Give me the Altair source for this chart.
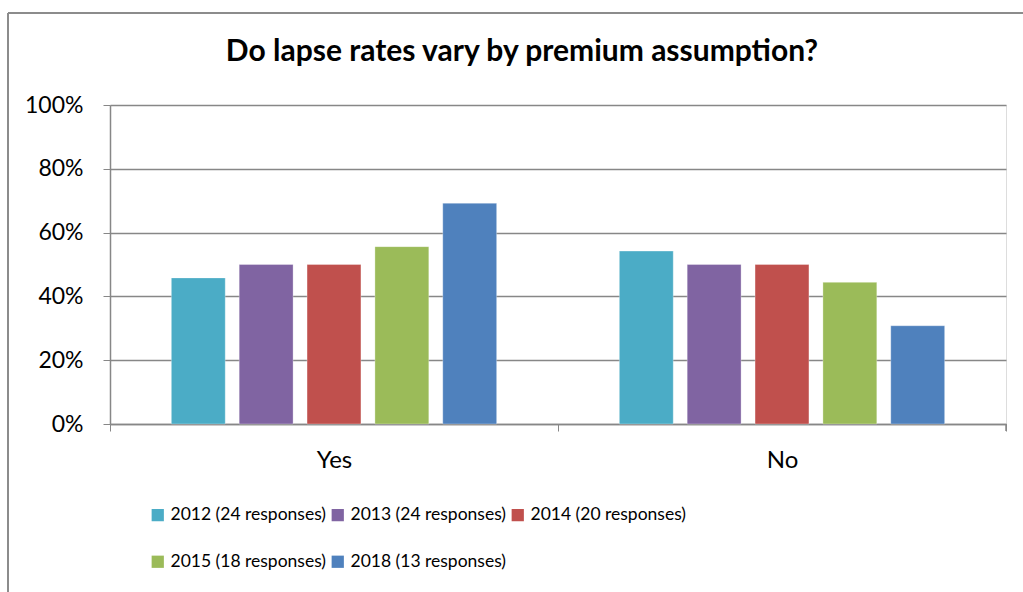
import altair as alt
import pandas as pd

answers = ["Yes", "No"]
series = ["2012 (24 responses)", "2013 (24 responses)", "2014 (20 responses)",
          "2015 (18 responses)", "2018 (13 responses)"]
colors = ["#4BACC6", "#8064A2", "#C0504D", "#9BBB59", "#4F81BD"]
yes_vals = [0.458, 0.50, 0.50, 0.556, 0.692]
no_vals = [0.542, 0.50, 0.50, 0.444, 0.308]
title_text = "Do lapse rates vary by premium assumption?"

rows = []
for s, y, n in zip(series, yes_vals, no_vals):
    rows.append({"answer": "Yes", "series": s, "value": y})
    rows.append({"answer": "No", "series": s, "value": n})
df = pd.DataFrame(rows)

# legend is laid out column by column; reorder so rows read 2012,2013,2014 / 2015,2018
legend_order = [series[0], series[3], series[1], series[4], series[2]]

FONT = "Lato"
W, H = 896, 319

bars = alt.Chart(df).mark_bar(stroke="white", strokeWidth=0.5, strokeOpacity=0.6).encode(
    x=alt.X("answer:N", sort=answers, title=None,
            scale=alt.Scale(paddingInner=0, paddingOuter=0),
            axis=alt.Axis(labelAngle=0, labelFont=FONT, labelFontSize=24, labelColor="black",
                          labelPadding=17, tickColor="#878787", tickSize=7, tickBand="extent",
                          bandPosition=0, domainColor="#878787", domainWidth=1.5)),
    xOffset=alt.XOffset("series:N", sort=series,
                        scale=alt.Scale(paddingInner=0.206, paddingOuter=0.904)),
    y=alt.Y("value:Q", title=None,
            scale=alt.Scale(domain=[0, 1]),
            axis=alt.Axis(format="%", values=[0, 0.2, 0.4, 0.6, 0.8, 1.0],
                          labelFont=FONT, labelFontSize=23, labelColor="black",
                          labelPadding=20, tickColor="#878787", tickSize=7,
                          gridColor="#878787", gridWidth=1.5, domainColor="#878787",
                          domainWidth=1.5)),
    color=alt.Color("series:N", sort=series, title=None,
                    scale=alt.Scale(domain=series, range=colors),
                    legend=alt.Legend(orient="none", legendX=39, legendY=401, columns=3,
                                      values=legend_order,
                                      symbolType="square", symbolSize=150,
                                      symbolStrokeWidth=0, labelFont=FONT,
                                      labelFontSize=17.5, labelColor="black",
                                      labelOffset=4, rowPadding=28, columnPadding=2,
                                      labelLimit=400)),
)

title = alt.Chart(pd.DataFrame({"t": [title_text]})).mark_text(
    font=FONT, fontSize=30, fontWeight="bold", color="black", baseline="middle", align="center"
).encode(x=alt.value(W / 2 - 36), y=alt.value(-53), text="t:N")

end_tick = alt.Chart(pd.DataFrame({"a": [0]})).mark_rule(color="#878787", strokeWidth=1.5).encode(
    x=alt.value(W), y=alt.value(H), y2=alt.value(H + 7))
frame_left = alt.Chart(pd.DataFrame({"a": [0]})).mark_rule(color="#8c8c8c", strokeWidth=2).encode(
    x=alt.value(-102), y=alt.value(-92), y2=alt.value(500))
frame_top = alt.Chart(pd.DataFrame({"a": [0]})).mark_rule(color="#8c8c8c", strokeWidth=2).encode(
    x=alt.value(-102), x2=alt.value(950), y=alt.value(-92))

chart = alt.layer(bars, title, end_tick, frame_left, frame_top).properties(
    width=W, height=H,
    autosize=alt.AutoSizeParams(type="none"),
    padding={"left": 110, "top": 105, "right": 17, "bottom": 168},
).configure_view(strokeWidth=0).configure(background="white")

chart.save("out.html", embed_options={"renderer": "svg", "actions": False})
